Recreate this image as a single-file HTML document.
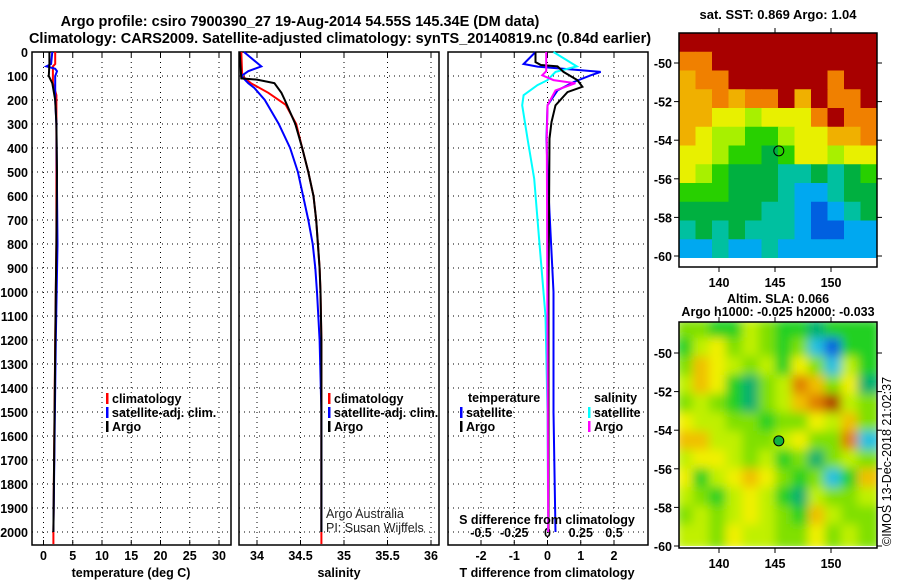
<!DOCTYPE html>
<html><head><meta charset="utf-8">
<style>
html,body{margin:0;padding:0;background:#fff;}
svg{display:block;font-family:"Liberation Sans",sans-serif;}
.t{font-weight:bold;font-size:14.5px;}
.tk{font-weight:bold;font-size:12.5px;}
</style></head>
<body>
<svg id="fig" width="900" height="580" viewBox="0 0 900 580" xmlns="http://www.w3.org/2000/svg">
<text x="300" y="26" text-anchor="middle" class="t">Argo profile: csiro 7900390_27 19-Aug-2014 54.55S 145.34E (DM data)</text>
<text x="340" y="43" text-anchor="middle" class="t">Climatology: CARS2009. Satellite-adjusted climatology: synTS_20140819.nc (0.84d earlier)</text>
<g id="layer"></g>
</svg>
<script>
// ---------- data ----------
const depthTicks=[0,100,200,300,400,500,600,700,800,900,1000,1100,1200,1300,1400,1500,1600,1700,1800,1900,2000];
const tempTicks=[0,5,10,15,20,25,30];
const salTicks=[34,34.5,35,35.5,36];
const tdiffTicks=[-2,-1,0,1,2];
const sdiffTicks=[-0.5,-0.25,0,0.25,0.5];
const sdiffTickLabels=["-0.5","-0.25","0","0.25","0.5"];

const argoDepth=[0,50,100,130,200,300,500,800,1000,1500,2000];
const argoTemp=[1.0,1.0,0.9,1.5,2.0,2.2,2.3,2.2,2.1,1.9,1.7];
const climTDepth=[0,50,60,130,180,300,800,1200,2000,2050];
const climTemp=[2.0,2.0,1.6,1.6,2.2,2.2,2.2,2.0,1.7,1.7];
const satTDepth=[0,50,60,70,80,100,150,200,300,800,1200,2000];
const satTemp=[1.5,1.3,0.5,2.0,2.3,2.0,2.0,2.0,2.2,2.4,2.1,1.7];

const argoSDepth=[0,110,115,130,170,200,300,400,500,600,700,800,900,1000,1200,1500,2000];
const argoSal=[33.8,33.82,34.0,34.2,34.28,34.32,34.44,34.52,34.59,34.65,34.68,34.70,34.72,34.73,34.74,34.74,34.74];
const climSDepth=[0,100,130,170,220,300,400,500,600,700,800,900,1000,1200,1500,2050];
const climSal=[33.82,33.83,33.93,34.13,34.33,34.45,34.52,34.59,34.65,34.68,34.70,34.72,34.73,34.74,34.74,34.74];
const satSDepth=[0,60,80,100,130,150,200,300,400,500,600,700,800,900,1000,1200,1500,2000];
const satSal=[33.85,34.05,33.9,33.82,33.9,33.97,34.09,34.25,34.38,34.47,34.53,34.59,34.64,34.67,34.69,34.72,34.74,34.74];

const dTArgoDepth=[0,42,54,60,83,117,145,167,222,292,361,1000,2000];
const dTArgo=[-0.36,-0.36,-0.2,0.3,0.48,0.9,1.05,0.6,0.24,0.12,0.06,0.03,0.03];
const dTSatDepth=[0,50,61,83,97,125,160,222,361,500,1000,1500,2000];
const dTSat=[-0.36,-0.72,-0.3,1.6,1.3,0.79,0.3,0.0,-0.03,0.0,0.18,0.18,0.24];
const dSSatDepth=[0,60,83,117,138,180,222,361,528,800,1100,1500,2000];
const dSSat=[0.045,0.22,0.06,0.0,-0.075,-0.18,-0.19,-0.15,-0.10,-0.06,-0.015,0.0,0.005];
const dSArgoDepth=[0,80,97,117,130,160,222,361,2000];
const dSArgo=[-0.01,-0.01,-0.04,0.045,0.21,0.06,0.0,-0.005,0.005];

const lonTicks=[140,145,150];
const latTicks=[-50,-52,-54,-56,-58,-60];
const sstColors=["#a80000","#f08000","#f0b000","#e8f000","#a8f000","#28d000","#00b040","#00c0a0","#00a8f0","#0060e0"];
const sstGrid=[
[0,0,0,0,0,0,0,0,0,0,0,0],
[1,1,0,0,0,0,0,0,0,0,0,0],
[2,1,1,0,0,0,0,0,0,1,0,0],
[2,2,1,2,1,1,0,2,0,1,1,0],
[2,2,3,3,4,3,3,3,1,0,1,1],
[2,3,4,4,5,5,4,3,3,2,2,1],
[3,3,4,5,5,6,5,3,3,4,3,3],
[3,4,5,6,6,6,7,7,6,7,6,5],
[5,5,5,6,6,6,7,8,8,7,6,6],
[6,6,6,6,6,7,7,8,9,8,7,6],
[7,6,7,6,7,7,7,8,9,9,8,8],
[8,8,7,8,8,7,8,8,8,8,8,8]];
const slaColors=["#1060e0","#20c0e0","#00b070","#20d020","#80e000","#c0f000","#f0f000","#f0c000","#e08000","#b04000"];
const slaGrid=[
[4,4,3,3,5,4,3,3,2,3,3,3],
[3,5,6,4,5,4,3,4,1,0,3,3],
[4,7,6,5,4,5,3,6,4,1,5,3],
[5,7,6,3,2,4,5,8,7,4,6,2],
[4,5,4,3,2,4,5,7,8,9,5,4],
[6,5,5,4,4,3,4,4,6,5,7,4],
[7,7,5,5,4,4,5,6,4,4,8,1],
[5,6,6,5,4,5,3,4,2,4,5,4],
[6,3,5,6,7,6,4,3,4,1,3,7],
[5,4,3,5,6,5,3,2,5,4,4,5],
[4,5,4,5,6,5,4,3,7,5,4,4],
[5,5,4,6,5,5,4,4,6,4,5,4]];

// ---------- helpers ----------
const NS="http://www.w3.org/2000/svg";
const layer=document.getElementById('layer');
function mk(tag,attrs,parent){const e=document.createElementNS(NS,tag);for(const k in attrs)e.setAttribute(k,attrs[k]);(parent||layer).appendChild(e);return e;}
const TOP=52,BOT=545;
const yD=d=>TOP+d*0.24;
function lin(d0,d1,r0,r1){return v=>r0+(v-d0)*(r1-r0)/(d1-d0);}
const xT=lin(0,30,43.5,219);
const xS=lin(34,36,257,431);
const xDT=lin(-2,2,481,614);
const xDS=lin(-0.5,0.5,481,614);

function panel(name,x0,x1,ticks,xf,labels,showDepth){
  const g=mk('g',{});
  
  
  depthTicks.forEach(d=>{
    const l=mk('line',{x1:x0,x2:x1,y1:yD(d),y2:yD(d),stroke:'#000','stroke-width':1,'stroke-dasharray':'1,4'},g);
    
    
    if(showDepth){
      const t=mk('text',{x:28,y:yD(d)+5,'text-anchor':'end',class:'tk'},g);
      
      
      t.textContent=d;
    }
  });
  ticks.forEach((v,i)=>{
    const x=xf(v);
    const l=mk('line',{x1:x,x2:x,y1:TOP,y2:BOT,stroke:'#000','stroke-width':1,'stroke-dasharray':'1,4'},g);
    
    
    mk('line',{x1:x,x2:x,y1:TOP,y2:TOP+5,stroke:'#000'},g);
    mk('line',{x1:x,x2:x,y1:BOT,y2:BOT-5,stroke:'#000'},g);
    if(labels){
      const t=mk('text',{x:x,y:560,'text-anchor':'middle',class:'tk'},g);
      
      
      t.textContent=labels[i];
    }
  });
  const r=mk('rect',{x:x0,y:TOP,width:x1-x0,height:BOT-TOP,fill:'none',stroke:'#000','stroke-width':1.5},g);
  
  
  return g;
}
function line(g,name,ds,vs,xf,color,w){
  const pts=ds.map((d,i)=>xf(vs[i]).toFixed(1)+','+yD(d).toFixed(1)).join(' ');
  const p=mk('polyline',{points:pts,fill:'none',stroke:color,'stroke-width':w||2},g);
  
  
}
function txt(x,y,s,name,opts){
  const t=mk('text',Object.assign({x:x,y:y,class:'tk'},opts||{}));
  
  
  t.textContent=s;return t;
}
function legendItem(x,y,color,label,name){
  const g=mk('g',{});
  
  
  mk('rect',{x:x,y:y-10,width:2.5,height:11,fill:color},g);
  const t=mk('text',{x:x+6,y:y,class:'tk'},g);t.textContent=label;
}

// panel 1 temperature
const p1=panel('temperature-panel',32,231,tempTicks,xT,tempTicks,true);
line(p1,'temperature-climatology-line',climTDepth,climTemp,xT,'#f00');
line(p1,'temperature-satellite-line',satTDepth,satTemp,xT,'#00f');
line(p1,'temperature-argo-line',argoDepth,argoTemp,xT,'#000');
txt(131,577,'temperature (deg C)','temperature-axis-title',{'text-anchor':'middle'});
legendItem(106,403,'#f00','climatology','legend-climatology');
legendItem(106,417,'#00f','satellite-adj. clim.','legend-satellite-adj');
legendItem(106,431,'#000','Argo','legend-argo');

// panel 2 salinity
const p2=panel('salinity-panel',239,439,salTicks,xS,salTicks,false);
line(p2,'salinity-climatology-line',climSDepth,climSal,xS,'#f00');
line(p2,'salinity-satellite-line',satSDepth,satSal,xS,'#00f');
line(p2,'salinity-argo-line',argoSDepth,argoSal,xS,'#000');
txt(339,577,'salinity','salinity-axis-title',{'text-anchor':'middle'});
legendItem(328,403,'#f00','climatology','legend-climatology-2');
legendItem(328,417,'#00f','satellite-adj. clim.','legend-satellite-adj-2');
legendItem(328,431,'#000','Argo','legend-argo-2');
txt(326,518,'Argo Australia','credit-argo-australia',{class:'',style:'font-size:12.5px;fill:#222'});
txt(326,532,'PI: Susan Wijffels','credit-pi',{class:'',style:'font-size:12.5px;fill:#222'});

// panel 3 differences
const p3=panel('difference-panel',448,648,tdiffTicks,xDT,tdiffTicks,false);
sdiffTicks.forEach((v,i)=>{
  const t=mk('text',{x:xDS(v),y:537,'text-anchor':'middle',class:'tk'},p3);
  
  
  t.textContent=sdiffTickLabels[i];
});
line(p3,'t-diff-satellite-line',dTSatDepth,dTSat,xDT,'#00f');
line(p3,'s-diff-satellite-line',dSSatDepth,dSSat,xDS,'#0ff');
line(p3,'t-diff-argo-line',dTArgoDepth,dTArgo,xDT,'#000');
line(p3,'s-diff-argo-line',dSArgoDepth,dSArgo,xDS,'#f0f');
txt(547,577,'T difference from climatology','t-diff-axis-title',{'text-anchor':'middle'});
txt(547,524,'S difference from climatology','s-diff-axis-title',{'text-anchor':'middle'});
txt(468,402,'temperature','legend-temperature-header');
legendItem(460,417,'#00f','satellite','legend-t-satellite');
legendItem(460,431,'#000','Argo','legend-t-argo');
txt(594,402,'salinity','legend-salinity-header');
legendItem(588,417,'#0ff','satellite','legend-s-satellite');
legendItem(588,431,'#f0f','Argo','legend-s-argo');

// maps
const xL=lin(140,150,719,831);
function map(name,top,bot,imgBot,lat50y,latStep,grid,colors,blur){
  const g=mk('g',{});
  
  
  const x0=679,x1=877;
  const clipId=name+'-clip';
  const cp=mk('clipPath',{id:clipId},g);
  mk('rect',{x:x0,y:top,width:x1-x0,height:imgBot-top},cp);
  const cg=mk('g',{'clip-path':'url(#'+clipId+')'},g);
  const inner=mk('g',blur?{filter:'url(#'+name+'-blur)'}:{},cg);
  if(blur){const f=mk('filter',{id:name+'-blur',x:'-0.1',y:'-0.1',width:'1.2',height:'1.2'},g);mk('feGaussianBlur',{stdDeviation:blur},f);}
  const rows=grid.length,cols=grid[0].length;
  const cw=(x1-x0)/cols,ch=(imgBot-top)/rows;
  grid.forEach((row,r)=>row.forEach((v,c)=>{
    const e=mk('rect',{x:x0+c*cw-(blur?3:0),y:top+r*ch-(blur?3:0),width:cw+0.6+(blur?6:0),height:ch+0.6+(blur?6:0),fill:colors[v]},inner);
    
    
  }));
  const yLat=lat=>lat50y+(-50-lat)/2*latStep;
  latTicks.forEach(lat=>{
    const y=yLat(lat);
    mk('line',{x1:x0-5,x2:x0,y1:y,y2:y,stroke:'#000'},g);
    mk('line',{x1:x1,x2:x1+5,y1:y,y2:y,stroke:'#000'},g);
    const t=mk('text',{x:x0-7,y:y+5,'text-anchor':'end',class:'tk'},g);
    
    
    t.textContent=lat;
  });
  lonTicks.forEach(lon=>{
    const x=xL(lon);
    mk('line',{x1:x,x2:x,y1:top,y2:top-5,stroke:'#000'},g);
    mk('line',{x1:x,x2:x,y1:bot,y2:bot+5,stroke:'#000'},g);
    const t=mk('text',{x:x,y:bot+20,'text-anchor':'middle',class:'tk'},g);
    
    
    t.textContent=lon;
  });
  const m=mk('circle',{cx:xL(145.34),cy:yLat(-54.55),r:5,fill:'none',stroke:'#000','stroke-width':1},g);
  
  
  const fr=mk('rect',{x:x0,y:top,width:x1-x0,height:bot-top,fill:'none',stroke:'#000','stroke-width':1.5},g);
  
  
  return m;
}
map('sst-map',33,267,258,63,38.6,sstGrid,sstColors,0);
const m2=map('sla-map',322,548,546,353,38.6,slaGrid,slaColors,5);
m2.setAttribute('fill','#10b040');
txt(778,19,'sat. SST: 0.869 Argo: 1.04','sst-map-title',{'text-anchor':'middle',style:'font-size:13px'});
txt(778,303,'Altim. SLA: 0.066','sla-map-title',{'text-anchor':'middle'});
txt(778,316,'Argo h1000: -0.025 h2000: -0.033','sla-map-subtitle',{'text-anchor':'middle'});
txt(0,0,'©IMOS 13-Dec-2018 21:02:37','imos-timestamp',{transform:'translate(891,546) rotate(-90)',class:'',style:'font-size:12.5px'});
</script>
</body></html>
